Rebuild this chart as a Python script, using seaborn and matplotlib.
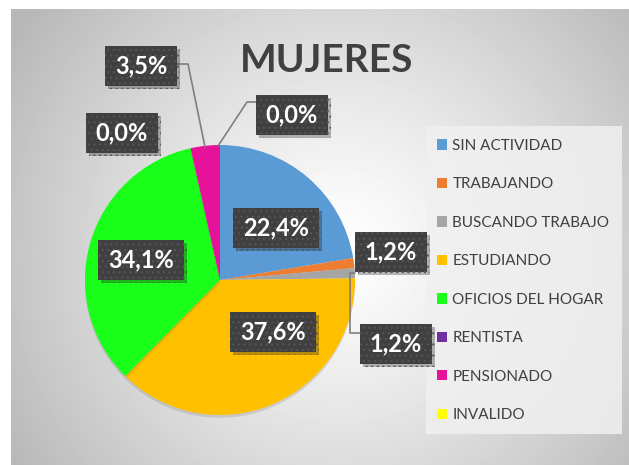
import numpy as np
import matplotlib.pyplot as plt
import matplotlib.patheffects as pe
from matplotlib.patches import Rectangle, Patch
import seaborn as sns

# Data
categories = ["SIN ACTIVIDAD", "TRABAJANDO", "BUSCANDO TRABAJO", "ESTUDIANDO",
              "OFICIOS DEL HOGAR", "RENTISTA", "PENSIONADO", "INVALIDO"]
percentages = [22.4, 1.2, 1.2, 37.6, 34.1, 0.0, 3.5, 0.0]
slice_colors = ["#5B9BD5", "#ED7D31", "#A5A5A5", "#FFC000",
                "#1AFF1A", "#7030A0", "#E7129A", "#FFFF00"]
chart_title = "MUJERES"

# Layout (pixel coordinates, y measured from the top)
W, H = 629, 465
pie_center = (220, 280)
pie_radius = 135
label_pos = [(276, 228), (391, 252), (396, 344), (273, 332),
             (141, 260), (122, 133), (141, 66), (292, 115)]
leaders = {
    2: [(355, 273), (350, 273), (350, 333), (362, 333)],
    6: [(176, 64), (188, 64), (205, 147)],
    7: [(258, 102), (247, 102), (218, 146)],
}

sns.set_theme(style="white")
plt.rcParams['font.family'] = ['Lato', 'DejaVu Sans']
plt.rcParams['hatch.linewidth'] = 0.8


def Y(y):
    return H - y


fig = plt.figure(figsize=(W / 100, H / 100), dpi=100, facecolor='white')

# ---------------------------------------------------------
# Radial gradient background of the chart area
# ---------------------------------------------------------
bg = fig.add_axes([11 / W, 0, (W - 11) / W, (H - 9) / H])
yy, xx = np.mgrid[9:H, 11:W]
d = np.clip(np.hypot(xx - 340, yy - 250) / 390, 0, 1)
shade = 1 - 0.28 * d ** 1.2
bg.imshow(shade, cmap='gray', vmin=0, vmax=1, aspect='auto', interpolation='bilinear')
bg.axis('off')

# ---------------------------------------------------------
# Pie
# ---------------------------------------------------------
ax = fig.add_axes([0, 0, 1, 1])
ax.patch.set_alpha(0)
wedges, _ = ax.pie(percentages, colors=slice_colors, startangle=90, counterclock=False,
                   center=(pie_center[0], Y(pie_center[1])), radius=pie_radius,
                   wedgeprops=dict(linewidth=0), frame=False)
for w in wedges:
    w.set_path_effects([pe.SimplePatchShadow(offset=(0, -2), shadow_rgbFace='k', alpha=0.12),
                        pe.Normal()])
ax.set_xlim(0, W)
ax.set_ylim(0, H)
ax.axis('off')

# Leader lines
for pts in leaders.values():
    xs = [p[0] for p in pts]
    ys = [Y(p[1]) for p in pts]
    ax.plot(xs, ys, color='#7f7f7f', lw=1.2, zorder=3)

# Data labels in dark patterned boxes
renderer = fig.canvas.get_renderer()
for val, (lx, ly) in zip(percentages, label_pos):
    txt = f"{val:.1f}".replace('.', ',') + '%'
    t = ax.text(lx, Y(ly), txt, ha='center', va='center', color='white',
                fontsize=17, fontweight='bold', zorder=6)
    tw = t.get_window_extent(renderer).width
    box = Rectangle((lx - tw / 2 - 10, Y(ly) - 20), tw + 20, 40, fc='#404040',
                    ec='#555555', lw=0, hatch='...', zorder=5)
    box.set_path_effects([pe.SimplePatchShadow(offset=(2, -2), shadow_rgbFace='k', alpha=0.3),
                          pe.Normal()])
    ax.add_patch(box)

# Title
ax.text(327, Y(61), chart_title, ha='center', va='center', fontsize=28,
        fontweight='bold', color='#404040')

# ---------------------------------------------------------
# Legend
# ---------------------------------------------------------
ax.add_patch(Rectangle((426, Y(434)), 196, 308, fc='#f0f0f0', ec='none', alpha=0.85, zorder=1))
handles = [Patch(fc=c, ec='none') for c in slice_colors]
leg = ax.legend(handles, categories, loc='upper left', bbox_to_anchor=(437, Y(139)),
                bbox_transform=ax.transData, frameon=False, fontsize=11,
                borderpad=0, borderaxespad=0, labelspacing=1.6,
                handlelength=0.66, handleheight=0.66, handletextpad=0.35)
for text in leg.get_texts():
    text.set_color('#404040')

fig.savefig('out.png', dpi=100)
